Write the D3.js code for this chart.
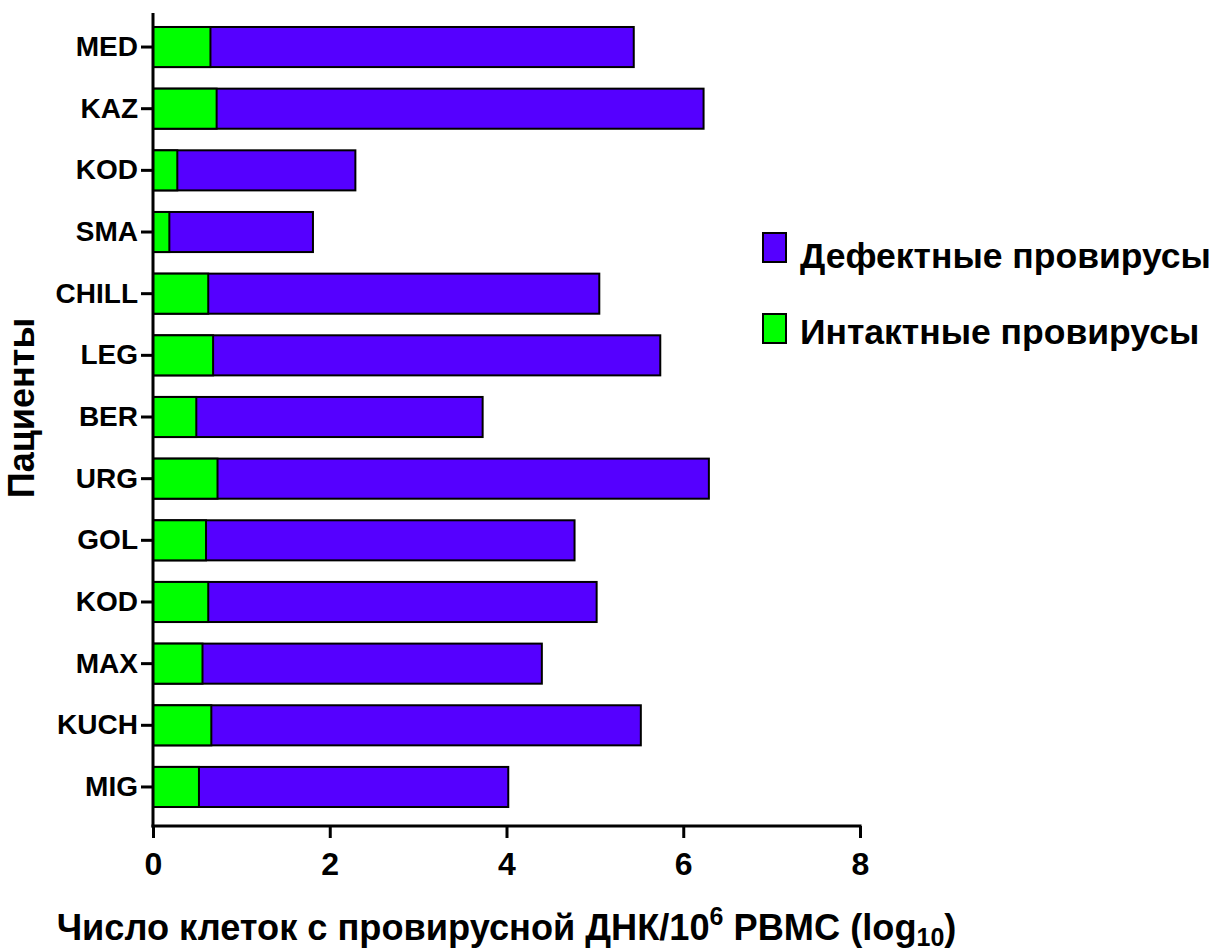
<!DOCTYPE html>
<html>
<head>
<meta charset="utf-8">
<script src="https://cdn.jsdelivr.net/npm/d3@7"></script>
<style>
  html, body { margin: 0; padding: 0; background: #fff; }
  svg { display: block; font-family: "Liberation Sans", Arial, sans-serif; font-weight: bold; }
</style>
</head>
<body>
<svg id="chart" width="1221" height="952"></svg>
<script>
// Patients, top to bottom
const patients = ["MED", "KAZ", "KOD", "SMA", "CHILL", "LEG", "BER", "URG", "GOL", "KOD", "MAX", "KUCH", "MIG"];
// log10 cells with proviral DNA per 10^6 PBMC
const totalLog = [5.44, 6.23, 2.29, 1.81, 5.05, 5.74, 3.73, 6.29, 4.77, 5.02, 4.40, 5.52, 4.02];
const intactLog = [0.65, 0.72, 0.275, 0.185, 0.625, 0.68, 0.49, 0.73, 0.60, 0.625, 0.56, 0.66, 0.52];
const xTicks = [0, 2, 4, 6, 8];
const seriesNames = ["Дефектные провирусы", "Интактные провирусы"];
const seriesColors = ["#5500ff", "#00ff00"];

const svg = d3.select("#chart");

const x = d3.scaleLinear().domain([0, 8]).range([153, 860]);
const rows = patients.map((p, i) => ({ id: i, name: p, total: totalLog[i], intact: intactLog[i] }));
const y = d3.scaleBand()
  .domain(rows.map(d => d.id))
  .range([16.2, 817.8])
  .paddingInner(0.35)
  .paddingOuter(0.175);

const axisBottomY = 826;

// bars: defective spans the whole length, intact overlays from zero
const g = svg.append("g");
g.selectAll("rect.def").data(rows).join("rect")
  .attr("class", "def")
  .attr("x", x(0))
  .attr("y", d => y(d.id))
  .attr("width", d => x(d.total) - x(0))
  .attr("height", y.bandwidth())
  .attr("fill", seriesColors[0])
  .attr("stroke", "#000")
  .attr("stroke-width", 2);

g.selectAll("rect.int").data(rows).join("rect")
  .attr("class", "int")
  .attr("x", x(0))
  .attr("y", d => y(d.id))
  .attr("width", d => x(d.intact) - x(0))
  .attr("height", y.bandwidth())
  .attr("fill", seriesColors[1])
  .attr("stroke", "#000")
  .attr("stroke-width", 2);

// x axis
const xAxis = svg.append("g")
  .attr("transform", `translate(0,${axisBottomY})`)
  .call(d3.axisBottom(x).tickValues(xTicks).tickSize(12).tickPadding(8).tickFormat(d3.format("d")));
xAxis.select(".domain").attr("stroke-width", 3).attr("d", `M${x(0) - 1.5},0H${x(8) + 1.5}`);
xAxis.selectAll(".tick line").attr("stroke-width", 3);
xAxis.selectAll(".tick text")
  .attr("font-size", 32)
  .attr("font-weight", "bold")
  .attr("font-family", "Liberation Sans, Arial, sans-serif")
  .attr("fill", "#000")
  .attr("dy", null)
  .attr("y", 49);

// y axis
const yAxis = svg.append("g")
  .attr("transform", `translate(${x(0)},0)`)
  .call(d3.axisLeft(y).tickSize(12).tickPadding(3).tickFormat(i => patients[i]));
yAxis.select(".domain").attr("stroke-width", 3).attr("d", `M0,13V${axisBottomY + 1.5}`);
yAxis.selectAll(".tick line").attr("stroke-width", 3);
yAxis.selectAll(".tick text")
  .attr("font-size", 28)
  .attr("font-weight", "bold")
  .attr("font-family", "Liberation Sans, Arial, sans-serif")
  .attr("fill", "#000");

// axis titles
const xt = svg.append("text")
  .attr("x", (x(0) + x(8)) / 2)
  .attr("y", 940)
  .attr("text-anchor", "middle")
  .attr("font-size", 36.2)
  .attr("fill", "#000");
xt.append("tspan").text("Число клеток с провирусной ДНК/10");
xt.append("tspan").attr("dy", -15).attr("font-size", 25).text("6");
xt.append("tspan").attr("dy", 15).text(" PBMC (log");
xt.append("tspan").attr("dy", 6).attr("font-size", 25).text("10");
xt.append("tspan").attr("dy", -6).text(")");

svg.append("text")
  .attr("transform", "translate(34,408) rotate(-90)")
  .attr("text-anchor", "middle")
  .attr("font-size", 36)
  .attr("fill", "#000")
  .text("Пациенты");

// legend
const legend = svg.append("g");
const legendBase = [268, 344];
const legendBoxTop = [233, 314];
seriesNames.forEach((name, i) => {
  legend.append("rect")
    .attr("x", 763).attr("y", legendBoxTop[i])
    .attr("width", 23).attr("height", 29)
    .attr("fill", seriesColors[i])
    .attr("stroke", "#000").attr("stroke-width", 2);
  legend.append("text")
    .attr("x", 800).attr("y", legendBase[i])
    .attr("font-size", 35.5)
    .attr("fill", "#000")
    .text(name);
});
</script>
</body>
</html>
